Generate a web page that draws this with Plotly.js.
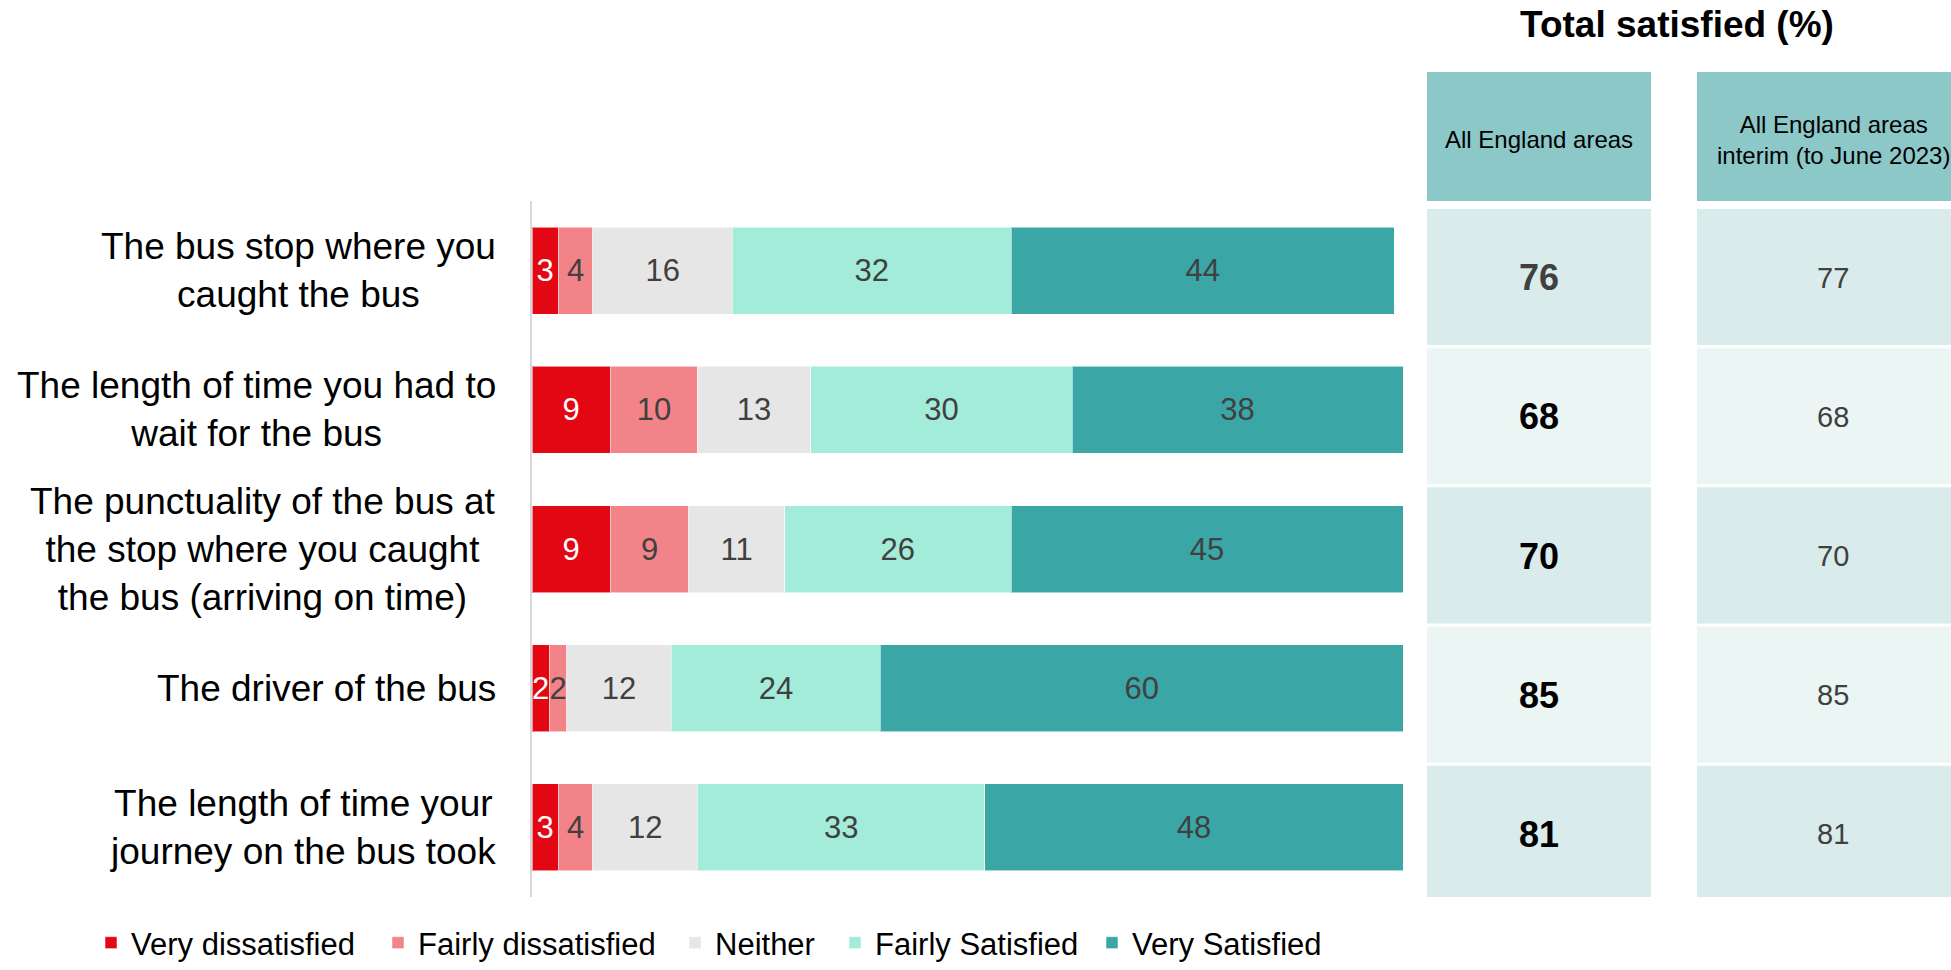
<!DOCTYPE html>
<html>
<head>
<meta charset="utf-8">
<script src="https://cdn.plot.ly/plotly-3.0.1.min.js"></script>
<style>
  html, body { margin: 0; padding: 0; background: #ffffff; }
  #chart { width: 1951px; height: 970px; }
</style>
</head>
<body>
<div id="chart"></div>
<script>
// ---------------- DATA ----------------
const categories = [
  "The bus stop where you<br>caught the bus",
  "The length of time you had to<br>wait for the bus",
  "The punctuality of the bus at<br>the stop where you caught<br>the bus (arriving on time)",
  "The driver of the bus",
  "The length of time your<br>journey on the bus took"
];
const seriesNames = ["Very dissatisfied", "Fairly dissatisfied", "Neither", "Fairly Satisfied", "Very Satisfied"];
const veryDissatisfied   = [3, 9, 9, 2, 3];
const fairlyDissatisfied = [4, 10, 9, 2, 4];
const neither            = [16, 13, 11, 12, 12];
const fairlySatisfied    = [32, 30, 26, 24, 33];
const verySatisfied      = [44, 38, 45, 60, 48];

const tableTitle = "Total satisfied (%)";
const columnHeaders = ["All England areas", "All England areas<br>interim (to June 2023)"];
const totalSatisfied   = [76, 68, 70, 85, 81];
const interimSatisfied = [77, 68, 70, 85, 81];

// ---------------- STYLE ----------------
const FONT = "Liberation Sans, Arial, sans-serif";
const seriesColors = ["#E30613", "#F28489", "#E6E6E6", "#A3ECD9", "#3AA6A6"];
const textColors = ["#FFFFFF", "#404040", "#404040", "#404040", "#404040"];
const seriesValues = [veryDissatisfied, fairlyDissatisfied, neither, fairlySatisfied, verySatisfied];

const W = 1951, H = 970;
const margin = { l: 532, r: 548, t: 201, b: 73, autoexpand: false };
const plotW = W - margin.l - margin.r;
const plotH = H - margin.t - margin.b;
// pixel -> paper helpers for layout decoration (table, legend placement)
const px2paperX = px => (px - margin.l) / plotW;
const px2paperY = py => (H - margin.b - py) / plotH;

// one legend per series so each entry can sit where the reference puts it
const legendTextStarts = [131, 418, 715, 875, 1132];
const legendIds = ["legend", "legend2", "legend3", "legend4", "legend5"];

const traces = seriesValues.map((vals, i) => ({
  type: "bar",
  orientation: "h",
  name: seriesNames[i],
  legend: legendIds[i],
  x: vals,
  y: categories,
  text: vals.map(String),
  textposition: "inside",
  insidetextanchor: "middle",
  constraintext: "none",
  textangle: 0,
  textfont: { family: FONT, size: 31, color: textColors[i] },
  marker: { color: seriesColors[i], line: { color: "rgba(255,255,255,0.55)", width: 1 } },
  hoverinfo: "name+x"
}));

// table decoration
const shapes = [];
const annotations = [];
const col1 = [px2paperX(1427), px2paperX(1651)];
const col2 = [px2paperX(1697), px2paperX(1969)];
const rowFills = ["#D9EBEB", "#EBF5F4", "#D9EBEB", "#EBF5F4", "#D9EBEB"];
[col1, col2].forEach((c, ci) => {
  shapes.push({ type: "rect", xref: "paper", yref: "paper", x0: c[0], x1: c[1],
    y0: px2paperY(201), y1: px2paperY(72), fillcolor: "#8CC8C8", line: { width: 0 }, layer: "below" });
  annotations.push({ xref: "paper", yref: "paper", x: (c[0] + c[1]) / 2, y: (px2paperY(201) + px2paperY(72)) / 2,
    xanchor: "center", yanchor: "middle", yshift: -3, text: columnHeaders[ci], showarrow: false, align: "center",
    font: { family: FONT, size: 24, color: "#000000" } });
  categories.forEach((cat, ri) => {
    shapes.push({ type: "rect", xref: "paper", yref: "y", x0: c[0], x1: c[1],
      y0: ri - 0.443, y1: ri + 0.535, fillcolor: rowFills[ri], line: { width: 0 }, layer: "below" });
  });
});
categories.forEach((cat, ri) => {
  annotations.push({ xref: "paper", yref: "y", x: (col1[0] + col1[1]) / 2, y: cat, yshift: -7,
    xanchor: "center", yanchor: "middle", text: "<b>" + totalSatisfied[ri] + "</b>", showarrow: false,
    font: { family: FONT, size: 36, color: ri === 0 ? "#404040" : "#000000" } });
  annotations.push({ xref: "paper", yref: "y", x: (col2[0] + col2[1]) / 2, y: cat, yshift: -7,
    xanchor: "center", yanchor: "middle", text: String(interimSatisfied[ri]), showarrow: false,
    font: { family: FONT, size: 29, color: "#404040" } });
  // category labels (lines centred within a right-aligned block)
  annotations.push({ xref: "paper", yref: "y", x: 0, y: cat, xanchor: "right", yanchor: "middle", xshift: -34,
    text: cat, showarrow: false, align: "center", font: { family: FONT, size: 37, color: "#000000" } });
});

const layout = {
  width: W, height: H,
  margin: margin,
  paper_bgcolor: "#FFFFFF",
  plot_bgcolor: "#FFFFFF",
  font: { family: FONT, color: "#000000" },
  barmode: "stack",
  bargap: 0.375,
  showlegend: true,
  title: { text: "<b>" + tableTitle + "</b>", x: 1677 / W, xanchor: "center", xref: "container",
    y: 1 - 24 / H, yanchor: "middle", yref: "container", font: { family: FONT, size: 37, color: "#000000" } },
  xaxis: { range: [0, 100], showgrid: false, zeroline: false, showline: false, showticklabels: false, fixedrange: true },
  yaxis: { type: "category", range: [4.5, -0.5], showgrid: false, zeroline: false, showline: true,
    linecolor: "#D9D9D9", linewidth: 2, showticklabels: false, ticks: "", fixedrange: true },
  shapes: shapes,
  annotations: annotations
};
legendIds.forEach((id, i) => {
  layout[id] = { orientation: "h", x: px2paperX(legendTextStarts[i] - 40), xanchor: "left",
    yref: "container", y: 0, yanchor: "bottom", font: { family: FONT, size: 31, color: "#000000" },
    bgcolor: "rgba(0,0,0,0)" };
});

Plotly.newPlot("chart", traces, layout, { displayModeBar: false, staticPlot: true });
</script>
</body>
</html>
